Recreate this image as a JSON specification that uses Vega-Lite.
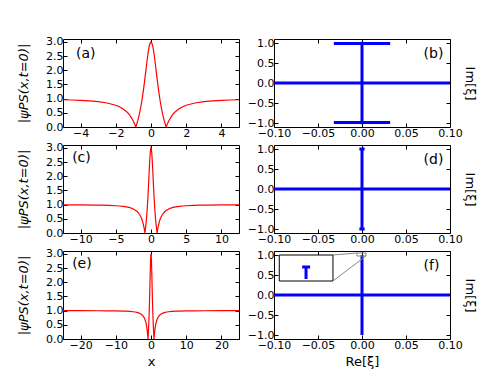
{
  "$schema": "https://vega.github.io/schema/vega-lite/v6.json",
  "padding": {"left": 17, "top": 35, "right": 5, "bottom": 5},
  "bounds": "flush",
  "columns": 2,
  "spacing": {"row": 18, "column": 35},
  "config": {
    "font": "DejaVu Sans",
    "view": {"stroke": "black", "strokeWidth": 1},
    "axis": {"grid": false, "domain": false, "tickColor": "black", "tickSize": -4, "labelFont": "DejaVu Sans", "labelFontSize": 11, "labelColor": "black", "labelPadding": 4, "labelOverlap": false, "labelFlush": false, "titleFont": "DejaVu Sans", "titleFontSize": 13, "titleFontWeight": "normal", "titleColor": "black", "titlePadding": 2},
    "axisLeft": {"titlePadding": 15},
    "axisBottom": {"titlePadding": 5}
  },
  "datasets": {
    "psi": [
      {"x": -25, "y": 0.998}, {"x": -20, "y": 0.997}, {"x": -15, "y": 0.996}, {"x": -12.5, "y": 0.994}, {"x": -10, "y": 0.99}, {"x": -8, "y": 0.984}, {"x": -7, "y": 0.98}, {"x": -6, "y": 0.972}, {"x": -5, "y": 0.96}, {"x": -4.5, "y": 0.951}, {"x": -4, "y": 0.938}, {"x": -3.5, "y": 0.92}, {"x": -3, "y": 0.892}, {"x": -2.5, "y": 0.846}, {"x": -2, "y": 0.765}, {"x": -1.8, "y": 0.713}, {"x": -1.6, "y": 0.644}, {"x": -1.4, "y": 0.548}, {"x": -1.3, "y": 0.485}, {"x": -1.2, "y": 0.408}, {"x": -1.1, "y": 0.315}, {"x": -1.0, "y": 0.2}, {"x": -0.95, "y": 0.132}, {"x": -0.9, "y": 0.057}, {"x": -0.866, "y": 0.0}, {"x": -0.85, "y": 0.028}, {"x": -0.8, "y": 0.124}, {"x": -0.75, "y": 0.231}, {"x": -0.7, "y": 0.351}, {"x": -0.65, "y": 0.487}, {"x": -0.6, "y": 0.639}, {"x": -0.55, "y": 0.81}, {"x": -0.5, "y": 1.0}, {"x": -0.45, "y": 1.21}, {"x": -0.4, "y": 1.439}, {"x": -0.35, "y": 1.685}, {"x": -0.3, "y": 1.941}, {"x": -0.25, "y": 2.2}, {"x": -0.2, "y": 2.448}, {"x": -0.15, "y": 2.67}, {"x": -0.1, "y": 2.846}, {"x": -0.05, "y": 2.96}, {"x": 0, "y": 3.0},
      {"x": 0.05, "y": 2.96}, {"x": 0.1, "y": 2.846}, {"x": 0.15, "y": 2.67}, {"x": 0.2, "y": 2.448}, {"x": 0.25, "y": 2.2}, {"x": 0.3, "y": 1.941}, {"x": 0.35, "y": 1.685}, {"x": 0.4, "y": 1.439}, {"x": 0.45, "y": 1.21}, {"x": 0.5, "y": 1.0}, {"x": 0.55, "y": 0.81}, {"x": 0.6, "y": 0.639}, {"x": 0.65, "y": 0.487}, {"x": 0.7, "y": 0.351}, {"x": 0.75, "y": 0.231}, {"x": 0.8, "y": 0.124}, {"x": 0.85, "y": 0.028}, {"x": 0.866, "y": 0.0}, {"x": 0.9, "y": 0.057}, {"x": 0.95, "y": 0.132}, {"x": 1.0, "y": 0.2}, {"x": 1.1, "y": 0.315}, {"x": 1.2, "y": 0.408}, {"x": 1.3, "y": 0.485}, {"x": 1.4, "y": 0.548}, {"x": 1.6, "y": 0.644}, {"x": 1.8, "y": 0.713}, {"x": 2, "y": 0.765}, {"x": 2.5, "y": 0.846}, {"x": 3, "y": 0.892}, {"x": 3.5, "y": 0.92}, {"x": 4, "y": 0.938}, {"x": 4.5, "y": 0.951}, {"x": 5, "y": 0.96}, {"x": 6, "y": 0.972}, {"x": 7, "y": 0.98}, {"x": 8, "y": 0.984}, {"x": 10, "y": 0.99}, {"x": 12.5, "y": 0.994}, {"x": 15, "y": 0.996}, {"x": 20, "y": 0.997}, {"x": 25, "y": 0.998}
    ],
    "seg": [
      {"panel": "b", "kind": "spec", "x": -0.1, "x2": 0.1, "y": 0, "y2": 0},
      {"panel": "b", "kind": "spec", "x": 0, "x2": 0, "y": -1.03, "y2": 1.03},
      {"panel": "b", "kind": "spec", "x": -0.032, "x2": 0.032, "y": 0.985, "y2": 0.985},
      {"panel": "b", "kind": "spec", "x": -0.032, "x2": 0.032, "y": -0.985, "y2": -0.985},
      {"panel": "d", "kind": "spec", "x": -0.1, "x2": 0.1, "y": 0, "y2": 0},
      {"panel": "d", "kind": "spec", "x": 0, "x2": 0, "y": -1.0, "y2": 1.0},
      {"panel": "d", "kind": "spec", "x": -0.003, "x2": 0.003, "y": 1.0, "y2": 1.0},
      {"panel": "d", "kind": "spec", "x": -0.003, "x2": 0.003, "y": -1.0, "y2": -1.0},
      {"panel": "f", "kind": "spec", "x": -0.1, "x2": 0.1, "y": 0, "y2": 0},
      {"panel": "f", "kind": "spec", "x": 0, "x2": 0, "y": -1.0, "y2": 1.0},
      {"panel": "f", "kind": "inset", "x": -0.094, "x2": -0.033, "y": 0.35, "y2": 1.0},
      {"panel": "f", "kind": "insetspec", "x": -0.068, "x2": -0.059, "y": 0.7, "y2": 0.7},
      {"panel": "f", "kind": "insetspec", "x": -0.0636, "x2": -0.0636, "y": 0.7, "y2": 0.4},
      {"panel": "f", "kind": "zoombox", "x": -0.0057, "x2": 0.0045, "y": 0.975, "y2": 1.05},
      {"panel": "f", "kind": "connector", "x": -0.033, "x2": -0.0057, "y": 1.0, "y2": 1.05},
      {"panel": "f", "kind": "connector", "x": -0.033, "x2": 0.0045, "y": 0.35, "y2": 0.975}
    ],
    "labels": [
      {"panel": "a", "x": -4.26, "y": 2.57, "label": "(a)"},
      {"panel": "c", "x": -11.2, "y": 2.64, "label": "(c)"},
      {"panel": "e", "x": -22.4, "y": 2.64, "label": "(e)"},
      {"panel": "b", "x": 0.07, "y": 0.72, "label": "(b)"},
      {"panel": "d", "x": 0.07, "y": 0.72, "label": "(d)"},
      {"panel": "f", "x": 0.07, "y": 0.72, "label": "(f)"}
    ]
  },
  "concat": [
    {
      "width": 176, "height": 88,
      "layer": [
        {"data": {"name": "psi"}, "mark": {"type": "line", "color": "#ff0000", "strokeWidth": 1.2, "clip": true},
         "encoding": {
           "x": {"field": "x", "type": "quantitative", "scale": {"domain": [-5, 5], "nice": false, "zero": false}, "axis": {"orient": "bottom", "values": [-4, -2, 0, 2, 4], "format": "d", "title": null}},
           "y": {"field": "y", "type": "quantitative", "scale": {"domain": [0, 3.1], "nice": false}, "axis": {"orient": "left", "values": [0, 0.5, 1, 1.5, 2, 2.5, 3], "format": ".1f", "title": "|ψPS(x,t=0)|", "titleFontStyle": "italic"}}}},
        {"data": {"name": "labels"}, "transform": [{"filter": "datum.panel == 'a'"}], "mark": {"type": "text", "align": "left", "baseline": "middle", "fontSize": 14, "color": "black"},
         "encoding": {
           "x": {"field": "x", "type": "quantitative", "scale": {"domain": [-5, 5], "nice": false, "zero": false}, "axis": {"orient": "top", "values": [-4, -2, 0, 2, 4], "labels": false, "title": null}},
           "y": {"field": "y", "type": "quantitative", "scale": {"domain": [0, 3.1], "nice": false}, "axis": {"orient": "right", "values": [0, 0.5, 1, 1.5, 2, 2.5, 3], "labels": false, "title": null}},
           "text": {"field": "label"}}}
      ],
      "resolve": {"axis": {"x": "independent", "y": "independent"}}
    },
    {
      "width": 176, "height": 88,
      "layer": [
        {"data": {"name": "seg"}, "transform": [{"filter": "datum.panel == 'b' && datum.kind == 'spec'"}], "mark": {"type": "rule", "color": "#0000ff", "strokeWidth": 3},
         "encoding": {
           "x": {"field": "x", "type": "quantitative", "scale": {"domain": [-0.1, 0.1], "nice": false, "zero": false}, "axis": {"orient": "bottom", "values": [-0.1, -0.05, 0, 0.05, 0.1], "format": ".2f", "title": null}},
           "x2": {"field": "x2"},
           "y": {"field": "y", "type": "quantitative", "scale": {"domain": [-1.1, 1.1], "nice": false, "zero": false}, "axis": {"orient": "left", "values": [-1, -0.5, 0, 0.5, 1], "format": ".1f", "title": null}},
           "y2": {"field": "y2"}}},
        {"data": {"name": "labels"}, "transform": [{"filter": "datum.panel == 'b'"}], "mark": {"type": "text", "align": "left", "baseline": "middle", "fontSize": 14, "color": "black"},
         "encoding": {
           "x": {"field": "x", "type": "quantitative", "scale": {"domain": [-0.1, 0.1], "nice": false, "zero": false}, "axis": {"orient": "top", "values": [-0.1, -0.05, 0, 0.05, 0.1], "labels": false, "title": null}},
           "y": {"field": "y", "type": "quantitative", "scale": {"domain": [-1.1, 1.1], "nice": false, "zero": false}, "axis": {"orient": "right", "values": [-1, -0.5, 0, 0.5, 1], "labels": false, "title": "Im[ξ]", "titlePadding": 12}},
           "text": {"field": "label"}}}
      ],
      "resolve": {"axis": {"x": "independent", "y": "independent"}}
    },
    {
      "width": 176, "height": 88,
      "layer": [
        {"data": {"name": "psi"}, "mark": {"type": "line", "color": "#ff0000", "strokeWidth": 1.2, "clip": true},
         "encoding": {
           "x": {"field": "x", "type": "quantitative", "scale": {"domain": [-12.5, 12.5], "nice": false, "zero": false}, "axis": {"orient": "bottom", "values": [-10, -5, 0, 5, 10], "format": "d", "title": null}},
           "y": {"field": "y", "type": "quantitative", "scale": {"domain": [0, 3.1], "nice": false}, "axis": {"orient": "left", "values": [0, 0.5, 1, 1.5, 2, 2.5, 3], "format": ".1f", "title": "|ψPS(x,t=0)|", "titleFontStyle": "italic"}}}},
        {"data": {"name": "labels"}, "transform": [{"filter": "datum.panel == 'c'"}], "mark": {"type": "text", "align": "left", "baseline": "middle", "fontSize": 14, "color": "black"},
         "encoding": {
           "x": {"field": "x", "type": "quantitative", "scale": {"domain": [-12.5, 12.5], "nice": false, "zero": false}, "axis": {"orient": "top", "values": [-10, -5, 0, 5, 10], "labels": false, "title": null}},
           "y": {"field": "y", "type": "quantitative", "scale": {"domain": [0, 3.1], "nice": false}, "axis": {"orient": "right", "values": [0, 0.5, 1, 1.5, 2, 2.5, 3], "labels": false, "title": null}},
           "text": {"field": "label"}}}
      ],
      "resolve": {"axis": {"x": "independent", "y": "independent"}}
    },
    {
      "width": 176, "height": 88,
      "layer": [
        {"data": {"name": "seg"}, "transform": [{"filter": "datum.panel == 'd' && datum.kind == 'spec'"}], "mark": {"type": "rule", "color": "#0000ff", "strokeWidth": 3},
         "encoding": {
           "x": {"field": "x", "type": "quantitative", "scale": {"domain": [-0.1, 0.1], "nice": false, "zero": false}, "axis": {"orient": "bottom", "values": [-0.1, -0.05, 0, 0.05, 0.1], "format": ".2f", "title": null}},
           "x2": {"field": "x2"},
           "y": {"field": "y", "type": "quantitative", "scale": {"domain": [-1.1, 1.1], "nice": false, "zero": false}, "axis": {"orient": "left", "values": [-1, -0.5, 0, 0.5, 1], "format": ".1f", "title": null}},
           "y2": {"field": "y2"}}},
        {"data": {"name": "labels"}, "transform": [{"filter": "datum.panel == 'd'"}], "mark": {"type": "text", "align": "left", "baseline": "middle", "fontSize": 14, "color": "black"},
         "encoding": {
           "x": {"field": "x", "type": "quantitative", "scale": {"domain": [-0.1, 0.1], "nice": false, "zero": false}, "axis": {"orient": "top", "values": [-0.1, -0.05, 0, 0.05, 0.1], "labels": false, "title": null}},
           "y": {"field": "y", "type": "quantitative", "scale": {"domain": [-1.1, 1.1], "nice": false, "zero": false}, "axis": {"orient": "right", "values": [-1, -0.5, 0, 0.5, 1], "labels": false, "title": "Im[ξ]", "titlePadding": 12}},
           "text": {"field": "label"}}}
      ],
      "resolve": {"axis": {"x": "independent", "y": "independent"}}
    },
    {
      "width": 176, "height": 88,
      "layer": [
        {"data": {"name": "psi"}, "mark": {"type": "line", "color": "#ff0000", "strokeWidth": 1.2, "clip": true},
         "encoding": {
           "x": {"field": "x", "type": "quantitative", "scale": {"domain": [-25, 25], "nice": false, "zero": false}, "axis": {"orient": "bottom", "values": [-20, -10, 0, 10, 20], "format": "d", "title": "x"}},
           "y": {"field": "y", "type": "quantitative", "scale": {"domain": [0, 3.1], "nice": false}, "axis": {"orient": "left", "values": [0, 0.5, 1, 1.5, 2, 2.5, 3], "format": ".1f", "title": "|ψPS(x,t=0)|", "titleFontStyle": "italic"}}}},
        {"data": {"name": "labels"}, "transform": [{"filter": "datum.panel == 'e'"}], "mark": {"type": "text", "align": "left", "baseline": "middle", "fontSize": 14, "color": "black"},
         "encoding": {
           "x": {"field": "x", "type": "quantitative", "scale": {"domain": [-25, 25], "nice": false, "zero": false}, "axis": {"orient": "top", "values": [-20, -10, 0, 10, 20], "labels": false, "title": null}},
           "y": {"field": "y", "type": "quantitative", "scale": {"domain": [0, 3.1], "nice": false}, "axis": {"orient": "right", "values": [0, 0.5, 1, 1.5, 2, 2.5, 3], "labels": false, "title": null}},
           "text": {"field": "label"}}}
      ],
      "resolve": {"axis": {"x": "independent", "y": "independent"}}
    },
    {
      "width": 176, "height": 88,
      "layer": [
        {"data": {"name": "seg"}, "transform": [{"filter": "datum.panel == 'f' && datum.kind == 'spec'"}], "mark": {"type": "rule", "color": "#0000ff", "strokeWidth": 3},
         "encoding": {
           "x": {"field": "x", "type": "quantitative", "scale": {"domain": [-0.1, 0.1], "nice": false, "zero": false}, "axis": {"orient": "bottom", "values": [-0.1, -0.05, 0, 0.05, 0.1], "format": ".2f", "title": "Re[ξ]"}},
           "x2": {"field": "x2"},
           "y": {"field": "y", "type": "quantitative", "scale": {"domain": [-1.1, 1.1], "nice": false, "zero": false}, "axis": {"orient": "left", "values": [-1, -0.5, 0, 0.5, 1], "format": ".1f", "title": null}},
           "y2": {"field": "y2"}}},
        {"data": {"name": "seg"}, "transform": [{"filter": "datum.kind == 'inset'"}], "mark": {"type": "rect", "fill": "white", "stroke": "black", "strokeWidth": 1},
         "encoding": {"x": {"field": "x", "type": "quantitative", "axis": null}, "x2": {"field": "x2"}, "y": {"field": "y", "type": "quantitative", "axis": null}, "y2": {"field": "y2"}}},
        {"data": {"name": "seg"}, "transform": [{"filter": "datum.kind == 'insetspec'"}], "mark": {"type": "rule", "color": "#0000ff", "strokeWidth": 3},
         "encoding": {"x": {"field": "x", "type": "quantitative", "axis": null}, "x2": {"field": "x2"}, "y": {"field": "y", "type": "quantitative", "axis": null}, "y2": {"field": "y2"}}},
        {"data": {"name": "seg"}, "transform": [{"filter": "datum.kind == 'zoombox'"}], "mark": {"type": "rect", "fillOpacity": 0, "stroke": "#888888", "strokeWidth": 1},
         "encoding": {"x": {"field": "x", "type": "quantitative", "axis": null}, "x2": {"field": "x2"}, "y": {"field": "y", "type": "quantitative", "axis": null}, "y2": {"field": "y2"}}},
        {"data": {"name": "seg"}, "transform": [{"filter": "datum.kind == 'connector'"}], "mark": {"type": "rule", "color": "#888888", "strokeWidth": 1},
         "encoding": {"x": {"field": "x", "type": "quantitative", "axis": null}, "x2": {"field": "x2"}, "y": {"field": "y", "type": "quantitative", "axis": null}, "y2": {"field": "y2"}}},
        {"data": {"name": "labels"}, "transform": [{"filter": "datum.panel == 'f'"}], "mark": {"type": "text", "align": "left", "baseline": "middle", "fontSize": 14, "color": "black"},
         "encoding": {
           "x": {"field": "x", "type": "quantitative", "scale": {"domain": [-0.1, 0.1], "nice": false, "zero": false}, "axis": {"orient": "top", "values": [-0.1, -0.05, 0, 0.05, 0.1], "labels": false, "title": null}},
           "y": {"field": "y", "type": "quantitative", "scale": {"domain": [-1.1, 1.1], "nice": false, "zero": false}, "axis": {"orient": "right", "values": [-1, -0.5, 0, 0.5, 1], "labels": false, "title": "Im[ξ]", "titlePadding": 12}},
           "text": {"field": "label"}}}
      ],
      "resolve": {"axis": {"x": "independent", "y": "independent"}}
    }
  ]
}
